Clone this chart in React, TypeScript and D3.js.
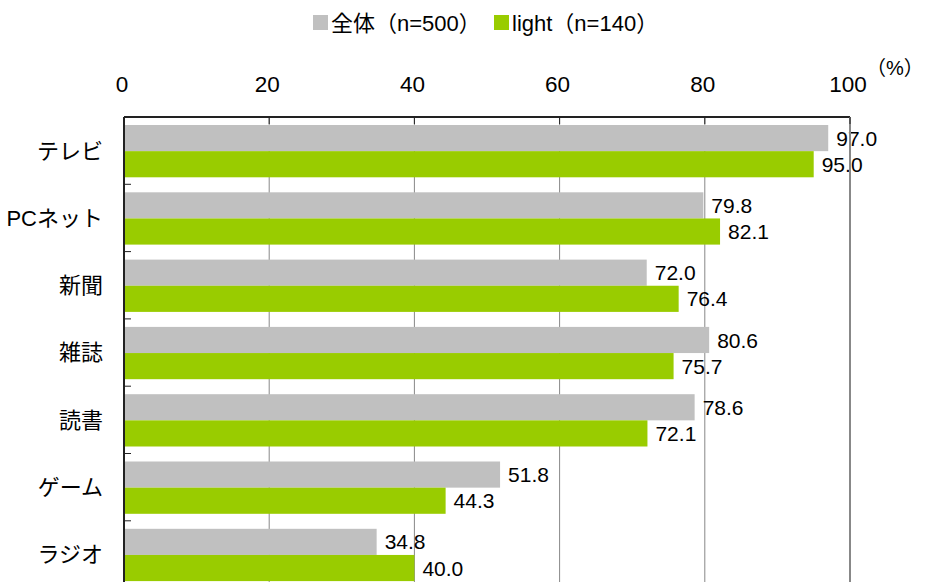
import React from "react";
import * as d3 from "d3";

const categories = ["テレビ", "PCネット", "新聞", "雑誌", "読書", "ゲーム", "ラジオ"];
const totalValues = [97.0, 79.8, 72.0, 80.6, 78.6, 51.8, 34.8];
const lightValues = [95.0, 82.1, 76.4, 75.7, 72.1, 44.3, 40.0];
const seriesNames = ["全体（n=500）", "light（n=140）"];
const seriesColors = ["#C0C0C0", "#99CC00"];
const xTicks = [0, 20, 40, 60, 80, 100];

const W = 927;
const H = 582;
const FONT = "'Liberation Sans', Arial, 'Noto Sans CJK JP', sans-serif";

export default function App() {
  const left = 124;
  const right = 850;
  const top = 117;
  const step = 67.3;
  const bottom = top + step * categories.length;

  const x = d3.scaleLinear().domain([0, 100]).range([left, right]);
  const y = d3.scaleBand<string>().domain(categories).range([top, bottom]).padding(0);
  const inner = d3
    .scaleBand<number>()
    .domain([0, 1])
    .range([8, step - 7])
    .padding(0);

  const series = [totalValues, lightValues];
  const legendX = [313, 494];

  return (
    <svg
      width={W}
      height={H}
      style={{ position: "absolute", left: 0, top: 0, background: "#fff" }}
      fontFamily={FONT}
    >
      <rect x={0} y={0} width={W} height={H} fill="#fff" />
      {/* legend */}
      {seriesNames.map((n, k) => (
        <g key={n}>
          <rect x={legendX[k]} y={15} width={15} height={15} fill={seriesColors[k]} />
          <text x={legendX[k] + 18} y={31} fontSize={22} fill="#000">
            {n}
          </text>
        </g>
      ))}

      {/* gridlines */}
      {xTicks.slice(1, -1).map((t) => (
        <line key={"g" + t} x1={x(t)} x2={x(t)} y1={top} y2={bottom} stroke="#888" strokeWidth={1} />
      ))}

      {/* bars */}
      {categories.map((c, i) => (
        <g key={c}>
          {series.map((s, k) => {
            const by = (y(c) as number) + (inner(k) as number);
            const bh = inner.bandwidth();
            return (
              <g key={k}>
                <rect x={x(0)} y={by} width={x(s[i]) - x(0)} height={bh} fill={seriesColors[k]} />
                <text
                  x={x(s[i]) + 8}
                  y={by + bh / 2}
                  dy="0.36em"
                  fontSize={21}
                  fill="#000"
                >
                  {s[i].toFixed(1)}
                </text>
              </g>
            );
          })}
        </g>
      ))}

      {/* frame */}
      <line x1={left} x2={right} y1={top} y2={top} stroke="#222" strokeWidth={2} />
      <line x1={right} x2={right} y1={top} y2={bottom} stroke="#888" strokeWidth={2} />
      <line x1={left} x2={left} y1={top} y2={bottom} stroke="#222" strokeWidth={2} />

      {/* top ticks */}
      {xTicks.map((t) => (
        <g key={"t" + t}>
          <line x1={x(t)} x2={x(t)} y1={top} y2={top + 7} stroke="#222" strokeWidth={1} />
          <text x={x(t) - 2} y={83.5} dy="0.36em" textAnchor="middle" fontSize={22.5} fill="#000">
            {t}
          </text>
        </g>
      ))}
      <text x={866} y={68} dy="0.36em" fontSize={20} fill="#000">
        （%）
      </text>

      {/* left ticks */}
      {categories.map((c) => (
        <line
          key={"lt" + c}
          x1={left}
          x2={left + 7}
          y1={(y(c) as number) + step}
          y2={(y(c) as number) + step}
          stroke="#222"
          strokeWidth={1}
        />
      ))}

      {/* category labels */}
      {categories.map((c) => (
        <text
          key={"cl" + c}
          x={103}
          y={(y(c) as number) + step / 2}
          dy="0.36em"
          textAnchor="end"
          fontSize={22}
          fill="#000"
        >
          {c}
        </text>
      ))}
    </svg>
  );
}
